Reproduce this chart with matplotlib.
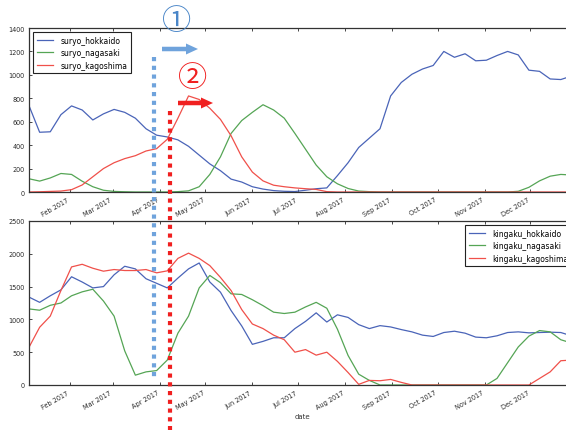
import matplotlib
matplotlib.use("Agg")
import matplotlib.pyplot as plt
import matplotlib.dates as mdates
from matplotlib.patches import FancyArrow
import numpy as np
import pandas as pd

# weekly samples
dates = pd.date_range("2017-01-05", periods=52, freq="7D")

suryo_hokkaido = [737, 510, 514, 660, 735, 700, 615, 667, 705, 680, 630, 540, 485,
                  470, 445, 390, 315, 240, 182, 110, 85, 45, 25, 12, 6, 4,
                  15, 28, 35, 140, 250, 380, 460, 540, 820, 935, 1005, 1050, 1080,
                  1200, 1150, 1180, 1120, 1125, 1165, 1200, 1170, 1040, 1030, 965, 960, 990]
suryo_nagasaki = [113, 93, 120, 158, 150, 92, 45, 15, 5, 2, 0, 0, 0,
                  0, 3, 10, 45, 150, 300, 500, 610, 680, 745, 700, 630, 500,
                  365, 230, 130, 70, 30, 8, 3] + [0] * 13 + [6, 40, 95, 135, 150, 145]
suryo_kagoshima = [0, 2, 5, 8, 20, 60, 130, 200, 250, 285, 310, 350, 370,
                   450, 630, 820, 790, 715, 620, 480, 300, 170, 95, 58, 45, 35,
                   28, 22, 3] + [0] * 23

kingaku_hokkaido = [1340, 1260, 1360, 1450, 1650, 1570, 1480, 1500, 1680, 1810, 1770, 1620, 1550,
                    1480, 1630, 1770, 1860, 1570, 1415, 1135, 900, 620, 665, 720, 720, 860,
                    970, 1100, 960, 1070, 1030, 920, 860, 905, 885, 845, 810, 760, 740,
                    800, 820, 790, 730, 720, 750, 800, 810, 795, 800, 805, 800, 750]
kingaku_nagasaki = [1160, 1140, 1215, 1250, 1360, 1420, 1460, 1280, 1050, 520, 150, 200, 220,
                    380, 790, 1050, 1480, 1670, 1560, 1390, 1380, 1300, 1210, 1110, 1090, 1110,
                    1190, 1260, 1170, 850, 450, 165, 70] + [0] * 11 + [100, 340, 580, 745, 830, 810, 690, 640]
kingaku_kagoshima = [575, 880, 1050, 1440, 1800, 1840, 1780, 1735, 1760, 1745, 1745, 1760, 1710,
                     1740, 1930, 2010, 1930, 1820, 1640, 1440, 1150, 930, 860, 760, 690, 500,
                     540, 455, 500, 360, 190, 10, 70, 65, 85, 40] + [0] * 12 + [100, 200, 370, 380]

colors = ["#4a64b8", "#55a555", "#f0504a"]
top_names = ["suryo_hokkaido", "suryo_nagasaki", "suryo_kagoshima"]
bot_names = ["kingaku_hokkaido", "kingaku_nagasaki", "kingaku_kagoshima"]

W, H = 566, 431
fig = plt.figure(figsize=(W / 100, H / 100), dpi=100)
fig.patch.set_facecolor("white")

# the axes run a little past the right edge, as in the cropped original
ax_right = 576
ax1 = fig.add_axes([29 / W, (H - 193) / H, (ax_right - 29) / W, 164 / H])
ax2 = fig.add_axes([29 / W, (H - 386) / H, (ax_right - 29) / W, 164 / H])

for s, c, n in zip([suryo_hokkaido, suryo_nagasaki, suryo_kagoshima], colors, top_names):
    ax1.plot(dates, s, color=c, lw=0.9, label=n)
for s, c, n in zip([kingaku_hokkaido, kingaku_nagasaki, kingaku_kagoshima], colors, bot_names):
    ax2.plot(dates, s, color=c, lw=0.9, label=n)

ax1.set_ylim(0, 1400)
ax1.set_yticks(np.arange(0, 1401, 200))
ax2.set_ylim(0, 2500)
ax2.set_yticks(np.arange(0, 2501, 500))

for ax in (ax1, ax2):
    ax.set_xlim(pd.Timestamp("2017-01-05"), pd.Timestamp("2017-12-31"))
    ax.xaxis.set_major_locator(mdates.MonthLocator())
    ax.xaxis.set_major_formatter(mdates.DateFormatter("%b %Y"))
    ax.tick_params(direction="in", top=True, right=True, length=2.5, width=0.6,
                   colors="#2a2a2a", labelsize=4.7, pad=3)
    for lab in ax.get_xticklabels():
        lab.set_rotation(30)
        lab.set_ha("right")
    for sp in ax.spines.values():
        sp.set_color("#333333")
        sp.set_linewidth(0.9)
    leg_loc = "upper left" if ax is ax1 else "upper right"
    leg = ax.legend(loc=leg_loc, fontsize=5.5, fancybox=False, framealpha=1,
                    edgecolor="#222222", borderpad=0.5, labelspacing=0.45,
                    handlelength=2.2, handletextpad=0.9)
    leg.get_frame().set_linewidth(0.8)

ax2.set_xlabel("date", fontsize=5, color="#333333", labelpad=2)

# annotation overlay in pixel coords
ov = fig.add_axes([0, 0, 1, 1], zorder=10)
ov.set_xlim(0, W)
ov.set_ylim(H, 0)
ov.axis("off")
ov.patch.set_alpha(0)

blue = "#6fa3dc"
red = "#f02020"
ov.plot([153.5, 153.5], [58, 378], color=blue, lw=3.0, dashes=(1.0, 1.1),
        solid_capstyle="butt", dash_capstyle="butt")
ov.plot([170.3, 170.3], [112, 431], color=red, lw=3.0, dashes=(1.0, 1.1),
        solid_capstyle="butt", dash_capstyle="butt")

ov.add_patch(FancyArrow(162, 50, 36, 0, width=4.5, head_width=11, head_length=12,
                        length_includes_head=True, color=blue, lw=0))
ov.add_patch(FancyArrow(178, 104, 35, 0, width=4.5, head_width=11, head_length=12,
                        length_includes_head=True, color=red, lw=0))

ov.text(177, 22, "①", fontsize=21, color="#4a86c8", ha="center", va="center",
        family=["Noto Sans CJK JP", "DejaVu Sans"])
ov.text(193, 79, "②", fontsize=21, color=red, ha="center", va="center",
        family=["Noto Sans CJK JP", "DejaVu Sans"])

fig.savefig("out.png", dpi=100)
